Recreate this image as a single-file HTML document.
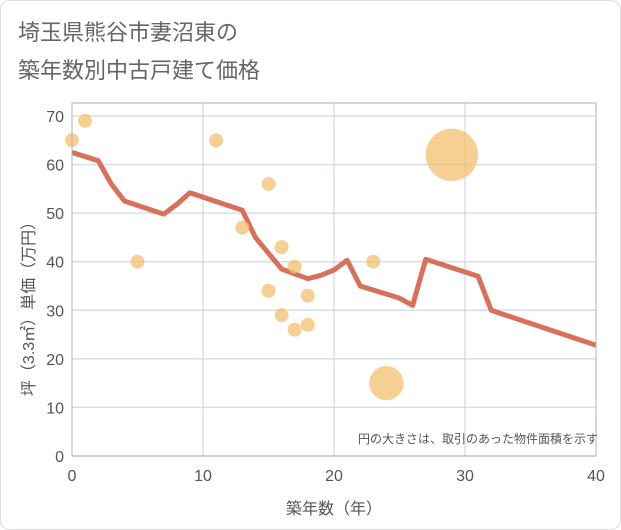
<!DOCTYPE html>
<html><head><meta charset="utf-8"><style>
body{margin:0;background:#fff;font-family:"Liberation Sans","Noto Sans CJK JP",sans-serif}
#wrap{position:relative;width:619px;height:528px;border:1px solid #ddd;border-radius:10px;overflow:hidden;background:#fff}
</style></head><body>
<div id="wrap">
<svg id="chart" width="621" height="530" style="position:absolute;left:-1px;top:-1px">
<text x="18" y="40" font-size="22" fill="#666">埼玉県熊谷市妻沼東の</text>
<text x="18" y="78" font-size="22" fill="#666">築年数別中古戸建て価格</text>
<g id="grid"></g><g id="line"></g><g id="dots"></g><g id="axes"></g>
<text x="598" y="443" font-size="12" fill="#555" text-anchor="end">円の大きさは、取引のあった物件面積を示す</text>
<text x="334" y="514" font-size="16" fill="#555" text-anchor="middle">築年数（年）</text>
<text transform="translate(34,305) rotate(-90)" font-size="16" fill="#555" text-anchor="middle">坪（3.3㎡）単価（万円）</text>
</svg>
</div>
<script>
const xTicks=[0,10,20,30,40];
const yTicks=[0,10,20,30,40,50,60,70];
const lineYears=[0,2,3,4,7,8,9,13,14,16,18,19,20,21,22,25,26,27,31,32,40];
const linePrices=[62.5,60.8,56,52.5,49.8,51.8,54.2,50.6,45,38.5,36.5,37.2,38.3,40.3,35,32.5,31,40.5,37,30,22.8];
const dotYears=[0,1,5,11,13,15,15,16,16,17,17,18,18,23,24,29];
const dotPrices=[65,69,40,65,47,56,34,43,29,39,26,33,27,40,15,62];
const dotSizes=[1,1,1,1,1,1,1,1,1,1,1,1,1,1,6,14];
const NS="http://www.w3.org/2000/svg";
const X0=72,X1=596,Y0=456,Y1=116,PT=103;
const sx=v=>X0+(X1-X0)*v/40, sy=v=>Y0-(Y0-Y1)*v/70;
function mk(t,a,p){const e=document.createElementNS(NS,t);for(const k in a)e.setAttribute(k,a[k]);p.appendChild(e);return e;}
const g=document.getElementById('grid'),ax=document.getElementById('axes');
yTicks.forEach(v=>{const l=mk('line',{x1:X0,x2:X1,y1:sy(v),y2:sy(v),stroke:'#d5dfea','stroke-width':1.5},g);


const t=mk('text',{x:X0-8,y:sy(v)+6,'font-size':16,fill:'#555','text-anchor':'end'},ax);t.textContent=v;

});
xTicks.forEach(v=>{const l=mk('line',{x1:sx(v),x2:sx(v),y1:PT,y2:Y0,stroke:'#c5d0dc','stroke-width':1},g);


const t=mk('text',{x:sx(v),y:Y0+25,'font-size':16,fill:'#555','text-anchor':'middle'},ax);t.textContent=v;

});
const fr=mk('rect',{x:X0,y:PT,width:X1-X0,height:Y0-PT,fill:'none',stroke:'#a9b3bd','stroke-width':1},ax);


const dg=document.getElementById('dots');
dotYears.forEach((v,i)=>{const c=mk('circle',{cx:sx(v),cy:sy(dotPrices[i]),r:7*Math.sqrt(dotSizes[i]),fill:'#f3bf6e','fill-opacity':0.75},dg);

});
const p=mk('polyline',{points:lineYears.map((v,i)=>sx(v)+','+sy(linePrices[i])).join(' '),fill:'none',stroke:'#d9705a','stroke-width':5,'stroke-linejoin':'round'},document.getElementById('line'));


</script>
</body></html>
